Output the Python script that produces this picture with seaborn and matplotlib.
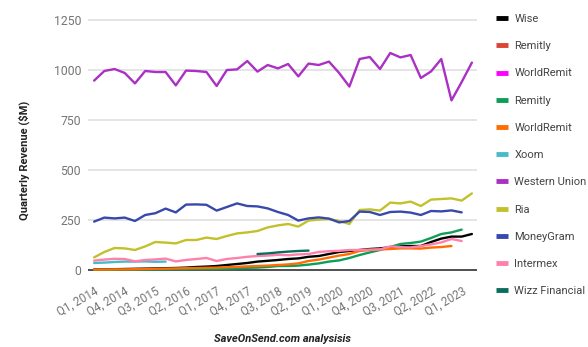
import numpy as np
import pandas as pd
import matplotlib
matplotlib.use("Agg")
import matplotlib.pyplot as plt
import matplotlib.transforms as mtrans
from matplotlib.lines import Line2D
import seaborn as sns

# --- data (quarterly revenue, $M) ---
years = list(range(2014, 2024))
quarters = [f"Q{q}, {y}" for y in years for q in range(1, 5)][:38]  # Q1 2014 .. Q2 2023

wise = [3, 3, 4, 5, 6, 7, 8, 9, 10, 12, 15, 17, 20, 25, 30, 35, 42, 46, 50, 55,
        58, 66, 70, 80, 90, 95, 100, 105, 108, 114, 118, 120, 120, 140, 157, 167, 167, 180]
remitly = [1, 1, 1, 2, 2, 2, 3, 3, 4, 4, 5, 5, 5, 7, 9, 11, 12, 15, 20, 20,
           22, 27, 33, 42, 48, 60, 75, 88, 100, 115, 130, 135, 142, 160, 180, 188, 202]
worldremit = [2, 2, 3, 3, 4, 5, 6, 7, 8, 9, 10, 11, 12, 14, 16, 18, 20, 22, 25, 28,
              33, 45, 52, 62, 72, 80, 95, 100, 103, 105, 108, 108, 107, 112, 115, 120]
xoom = [35, 37, 40, 42, 42, 43, 41, 42]
western_union = [947, 995, 1005, 985, 933, 995, 990, 990, 923, 997, 995, 990, 920, 1000,
                 1003, 1045, 992, 1025, 1008, 1030, 968, 1032, 1025, 1042, 985, 917, 1055,
                 1065, 1005, 1085, 1063, 1075, 960, 993, 1055, 848, 940, 1037]
ria = [63, 90, 110, 108, 100, 118, 140, 137, 133, 150, 150, 162, 155, 170, 183, 188, 195,
       213, 223, 230, 217, 247, 252, 255, 245, 230, 300, 303, 297, 337, 333, 342, 320, 352,
       355, 358, 347, 383]
moneygram = [242, 262, 258, 262, 245, 275, 284, 307, 288, 327, 328, 326, 297, 315, 333, 320,
             318, 308, 290, 275, 247, 258, 263, 257, 238, 245, 292, 290, 275, 290, 292, 287,
             275, 295, 293, 298, 288]
intermex = [47, 52, 56, 55, 43, 50, 53, 57, 43, 50, 55, 60, 45, 55, 60, 66, 70, 72, 76, 74,
            78, 80, 90, 94, 96, 100, 100, 102, 103, 118, 114, 113, 120, 128, 138, 155, 145]
wizz = [80, 83, 88, 92, 95, 97]
wizz_start = 16

# legend order: (name, values, first quarter index, colour)
series = [
    ("Wise", wise, 0, "#000000"),
    ("Remitly", [], 0, "#db4437"),
    ("WorldRemit", [], 0, "#ff00ff"),
    ("Remitly", remitly, 0, "#0f9d58"),
    ("WorldRemit", worldremit, 0, "#ff6d01"),
    ("Xoom", xoom, 0, "#46bdc6"),
    ("Western Union", western_union, 0, "#ab30c4"),
    ("Ria", ria, 0, "#c2c12c"),
    ("MoneyGram", moneygram, 0, "#3949ab"),
    ("Intermex", intermex, 0, "#ff80ab"),
    ("Wizz Financial", wizz, wizz_start, "#0b6e5c"),
]

sns.set_theme(style="white")
plt.rcParams["font.family"] = ["Roboto", "DejaVu Sans"]

fig = plt.figure(figsize=(5.88, 3.47), dpi=100)
ax = fig.add_axes([88 / 588, 1 - 272 / 347, 389 / 588, 254 / 347])

handles = []
for name, vals, start, color in series:
    if len(vals):
        df = pd.DataFrame({"q": np.arange(start, start + len(vals)), "rev": vals})
        sns.lineplot(data=df, x="q", y="rev", ax=ax, color=color, lw=1.7, legend=False,
                     zorder=3)
    handles.append(Line2D([0], [0], color=color, lw=3.5, solid_capstyle="butt", label=name))

ax.axhline(0, color="#444444", lw=1.3, zorder=2)
ax.set_ylim(-10, 1260)
ax.set_xlim(-0.6, 37.5)
ax.set_yticks([0, 250, 500, 750, 1000, 1250])
ax.grid(axis="y", color="#dedede", lw=1.1, zorder=0)
ax.grid(axis="x", visible=False)
for s in ax.spines.values():
    s.set_visible(False)

tick_pos = list(range(0, 37, 3))
ax.set_xticks(tick_pos)
ax.set_xticklabels([quarters[i] for i in tick_pos], rotation=30, ha="right",
                   rotation_mode="anchor")
shift = mtrans.ScaledTranslation(9 / 100, 0, fig.dpi_scale_trans)
for lab in ax.get_xticklabels():
    lab.set_transform(lab.get_transform() + shift)
ax.tick_params(axis="x", length=0, pad=9, labelsize=8.3, labelcolor="#757575")
ax.tick_params(axis="y", length=0, pad=5, labelsize=8.8, labelcolor="#757575")

ax.set_ylabel("Quarterly Revenue ($M)", fontsize=8, fontweight="bold", color="#222222")
ax.yaxis.set_label_coords((30 - 88) / 389, (272 - 160) / 254)
ax.set_xlabel("SaveOnSend.com analysisis", fontsize=8, fontweight="bold",
              fontstyle="italic", color="#222222")
ax.xaxis.set_label_coords(0.5, (272 - 334) / 254)

# legend kept narrow enough that the longest names stay inside the canvas
fig.legend(handles=handles, loc="upper left", bbox_to_anchor=(496 / 588, 1 - 14 / 347),
           frameon=False, fontsize=8, labelcolor="#444444", handlelength=1.05,
           handletextpad=0.6, labelspacing=1.55, borderpad=0, borderaxespad=0)

fig.savefig("out.png", dpi=100)
